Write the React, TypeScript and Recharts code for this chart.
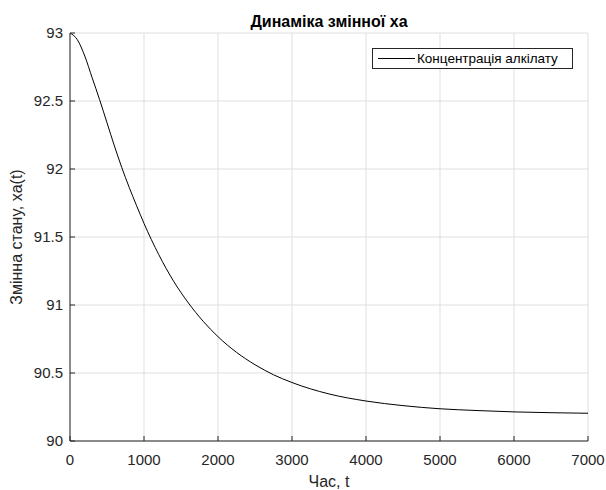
import React from "react";
import {
  LineChart,
  Line,
  XAxis,
  YAxis,
  CartesianGrid,
  Legend,
} from "recharts";

const timeValues = [
  0, 100, 200, 300, 400, 500, 600, 700, 800, 900, 1000, 1200, 1400, 1600,
  1800, 2000, 2250, 2500, 2750, 3000, 3500, 4000, 4500, 5000, 5500, 6000,
  6500, 7000,
];
const xaValues = [
  93.0, 92.95, 92.83, 92.67, 92.51, 92.34, 92.17, 92.01, 91.865, 91.73, 91.6,
  91.37, 91.175, 91.015, 90.88, 90.767, 90.652, 90.561, 90.487, 90.43, 90.346,
  90.294, 90.26, 90.237, 90.224, 90.214, 90.208, 90.204,
];
const xTicks = [0, 1000, 2000, 3000, 4000, 5000, 6000, 7000];
const yTicks = [90, 90.5, 91, 91.5, 92, 92.5, 93];
const seriesName = "Концентрація алкілату";
const titleText = "Динаміка змінної xa";
const xLabel = "Час, t";
const yLabel = "Змінна стану, xa(t)";

const data = timeValues.map((t, i) => ({ t, xa: xaValues[i] }));

const FONT = "'Liberation Sans', Arial, sans-serif";
const AXIS = "#262626";
const GRID = "#dfdfdf";

const LegendBox = (props: any) => {
  const item = (props.payload || [])[0];
  return (
    <div
      style={{
        border: `1px solid ${AXIS}`,
        background: "#fff",
        height: 21,
        width: 201,
        display: "flex",
        alignItems: "center",
        fontFamily: FONT,
        fontSize: 13.5,
        color: "#000",
        boxSizing: "border-box",
      }}
    >
      <svg width={44} height={19} style={{ display: "block" }}>
        <line x1={5} x2={42} y1={9.5} y2={9.5} stroke={item ? item.color : "#000"} strokeWidth={1} />
      </svg>
      <span style={{ whiteSpace: "nowrap", lineHeight: "19px" }}>{item ? item.value : seriesName}</span>
    </div>
  );
};

export default function App() {
  return (
    <div
      style={{
        position: "absolute",
        left: 0,
        top: 0,
        width: 606,
        height: 490,
        background: "#fff",
      }}
    >
      <LineChart
        width={606}
        height={490}
        data={data}
        margin={{ top: 33, right: 18, bottom: 3, left: 0 }}
      >
        <CartesianGrid
          xAxisId="b"
          yAxisId="l"
          stroke={GRID}
          strokeWidth={1}
        />
        <XAxis
          xAxisId="b"
          dataKey="t"
          type="number"
          domain={[0, 7000]}
          ticks={xTicks}
          interval={0}
          allowDataOverflow
          height={46}
          stroke={AXIS}
          tickSize={-5}
          tickMargin={18}
          tick={{ fill: AXIS, fontSize: 15, fontFamily: FONT }}
          label={{
            value: xLabel,
            position: "insideBottom",
            offset: 0,
            fill: AXIS,
            fontSize: 16,
            fontFamily: FONT,
          }}
        />
        <XAxis
          xAxisId="t"
          orientation="top"
          type="number"
          domain={[0, 7000]}
          ticks={xTicks}
          interval={0}
          allowDataOverflow
          height={0}
          stroke={AXIS}
          tickSize={-5}
          tick={false}
        />
        <YAxis
          yAxisId="l"
          type="number"
          domain={[90, 93]}
          ticks={yTicks}
          interval={0}
          allowDataOverflow
          width={70}
          stroke={AXIS}
          tickSize={-5}
          tickMargin={12}
          tick={{ fill: AXIS, fontSize: 15, fontFamily: FONT }}
          label={{
            value: yLabel,
            angle: -90,
            position: "insideLeft",
            offset: 16,
            fill: AXIS,
            fontSize: 16,
            fontFamily: FONT,
            style: { textAnchor: "middle" },
          }}
        />
        <YAxis
          yAxisId="r"
          orientation="right"
          type="number"
          domain={[90, 93]}
          ticks={yTicks}
          interval={0}
          allowDataOverflow
          width={0}
          stroke={AXIS}
          tickSize={-5}
          tick={false}
        />
        <Legend
          layout="horizontal"
          align="center"
          verticalAlign="middle"
          content={<LegendBox />}
          wrapperStyle={{ position: "absolute", left: 372, top: 48, width: 201, height: 21 }}
        />
        <Line
          xAxisId="b"
          yAxisId="l"
          type="monotone"
          dataKey="xa"
          name={seriesName}
          stroke="#000"
          strokeWidth={1}
          dot={false}
          activeDot={false}
          isAnimationActive={false}
        />
      </LineChart>
      <svg
        width={606}
        height={40}
        style={{ position: "absolute", left: 0, top: 0, pointerEvents: "none" }}
      >
        <text
          x={329}
          y={27}
          textAnchor="middle"
          fontFamily={FONT}
          fontSize={16}
          fontWeight="bold"
          fill="#000"
        >
          {titleText}
        </text>
      </svg>
    </div>
  );
}
